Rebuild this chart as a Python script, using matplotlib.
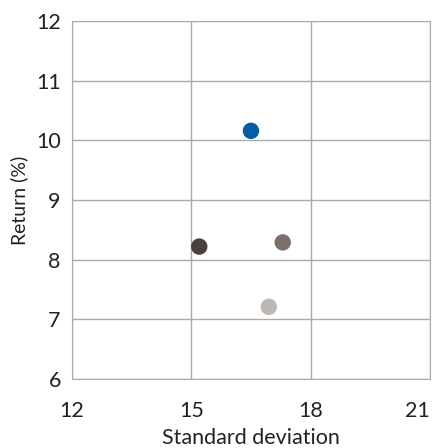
import matplotlib
matplotlib.use("Agg")
import matplotlib.pyplot as plt

plt.rcParams['font.family'] = ['Lato', 'DejaVu Sans']

std_dev = [16.5, 15.2, 17.3, 16.95]
returns = [10.16, 8.22, 8.29, 7.21]
colors = ['#005ea8', '#4a3f3b', '#7b6f6b', '#bdb8b4']
xticks = [12, 15, 18, 21]
yticks = [6, 7, 8, 9, 10, 11, 12]

fig = plt.figure(figsize=(4.4, 4.48), dpi=100)
ax = fig.add_axes([0.1636, 0.154, 0.8134, 0.799])

ax.scatter(std_dev, returns, c=colors, s=140, linewidths=0, zorder=3)

ax.set_xlim(12, 21)
ax.set_ylim(6, 12)
ax.set_xticks(xticks)
ax.set_yticks(yticks)
ax.grid(True, color='#aaaaaa', linewidth=1)
for s in ax.spines.values():
    s.set_color('#aaaaaa')
ax.tick_params(length=0, labelsize=15.5, colors='#222222')
ax.tick_params(axis='x', pad=16)
ax.tick_params(axis='y', pad=8)
# last x label sits flush with the right edge
ax.get_xticklabels()[-1].set_horizontalalignment('right')
ax.set_xlabel('Standard deviation', fontsize=15.5, color='#222222', labelpad=5)
ax.set_ylabel('Return (%)', fontsize=14, color='#222222', labelpad=6)

fig.savefig('out.png', dpi=100)
